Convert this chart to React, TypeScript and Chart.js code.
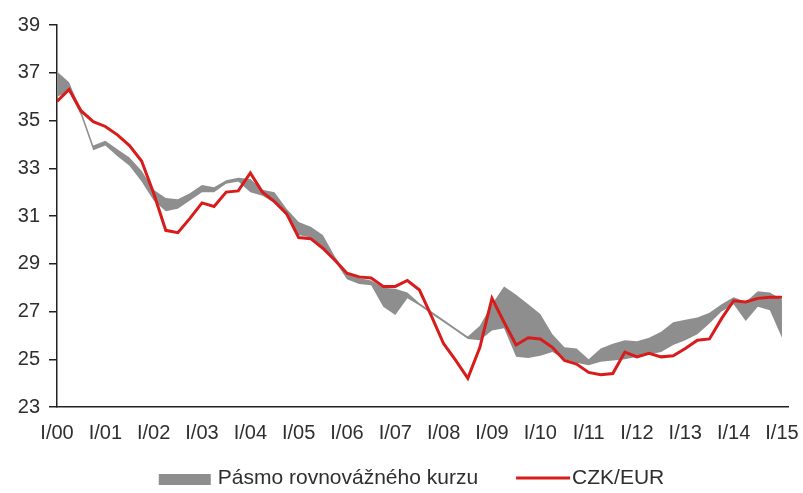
import React, { useEffect, useRef } from "react";
import { Chart, registerables } from "chart.js";

Chart.register(...registerables);

// Year tick labels (one per first quarter)
const yearLabels = [
  "I/00", "I/01", "I/02", "I/03", "I/04", "I/05", "I/06", "I/07",
  "I/08", "I/09", "I/10", "I/11", "I/12", "I/13", "I/14", "I/15",
];

// CZK/EUR, quarterly from I/00 to I/15
const czkEur = [
  35.8, 36.3, 35.4, 34.95, 34.75, 34.4, 33.95, 33.3,
  31.95, 30.4, 30.3, 30.9, 31.55, 31.4, 32.0, 32.05,
  32.8, 32.0, 31.6, 31.1, 30.1, 30.05, 29.65, 29.15,
  28.6, 28.45, 28.4, 28.05, 28.05, 28.3, 27.9, 26.8,
  25.65, 24.95, 24.2, 25.5, 27.55, 26.55, 25.6, 25.9,
  25.85, 25.5, 24.95, 24.8, 24.45, 24.35, 24.4, 25.3,
  25.1, 25.25, 25.1, 25.15, 25.45, 25.8, 25.85, 26.7,
  27.45, 27.4, 27.55, 27.6, 27.6,
];

// Equilibrium exchange-rate band: upper and lower bound
const bandUpper = [
  37.05, 36.6, 35.4, 33.95, 34.15, 33.8, 33.45, 32.9,
  32.1, 31.75, 31.7, 31.95, 32.3, 32.2, 32.5, 32.6,
  32.55, 32.1, 32.0, 31.3, 30.75, 30.55, 30.2, 29.3,
  28.6, 28.4, 28.3, 28.0, 27.95, 27.8, 27.35, 27.0,
  26.65, 26.3, 25.95, 26.4, 27.3, 28.05, 27.7, 27.3,
  26.9, 26.05, 25.5, 25.45, 25.0, 25.45, 25.65, 25.8,
  25.75, 25.9, 26.15, 26.55, 26.65, 26.75, 26.95, 27.3,
  27.6, 27.4, 27.85, 27.8, 27.5,
];
const bandLower = [
  36.0, 36.2, 35.2, 33.75, 33.95, 33.5, 33.1, 32.45,
  31.65, 31.2, 31.3, 31.65, 32.0, 32.0, 32.35, 32.45,
  32.0, 31.85, 31.55, 31.0, 30.2, 30.1, 29.7, 29.1,
  28.35, 28.15, 28.1, 27.2, 26.85, 27.55, 27.25, 26.9,
  26.55, 26.2, 25.85, 25.8, 26.2, 26.3, 25.1, 25.05,
  25.15, 25.3, 25.0, 24.85, 24.75, 24.9, 24.95, 25.0,
  25.1, 25.2, 25.3, 25.6, 25.8, 26.05, 26.5, 27.0,
  27.3, 26.6, 27.2, 27.05, 25.9,
];

const seriesNames = ["Pásmo rovnovážného kurzu", "CZK/EUR"];

const RED = "#d81c1c";
const GREY = "#8e8e8e";
const TEXT = "#2e2e2e";
const FONT = "'Liberation Sans', Arial, sans-serif";

// Legend drawn below the axis labels (box for the band, line for the rate)
const legendPlugin = {
  id: "bottomLegend",
  afterDraw(chart: any) {
    const ctx = chart.ctx as CanvasRenderingContext2D;
    ctx.save();
    ctx.font = `21px ${FONT}`;
    const boxW = 52;
    const gapBox = 7;
    const itemGap = 38;
    const lineW = 54;
    const gapLine = 2;
    const w1 = ctx.measureText(seriesNames[0]).width;
    const w2 = ctx.measureText(seriesNames[1]).width;
    const total = boxW + gapBox + w1 + itemGap + lineW + gapLine + w2;
    const center = chart.width / 2 + 10;
    const y = chart.height - 15;
    let x = center - total / 2;
    ctx.fillStyle = GREY;
    ctx.fillRect(x, y - 4, boxW, 11);
    x += boxW + gapBox;
    ctx.fillStyle = TEXT;
    ctx.textBaseline = "middle";
    ctx.textAlign = "left";
    ctx.fillText(seriesNames[0], x, y);
    x += w1 + itemGap;
    ctx.strokeStyle = RED;
    ctx.lineWidth = 3;
    ctx.beginPath();
    ctx.moveTo(x, y);
    ctx.lineTo(x + lineW, y);
    ctx.stroke();
    x += lineW + gapLine;
    ctx.fillText(seriesNames[1], x, y);
    ctx.restore();
  },
};

export default function App() {
  const ref = useRef<HTMLCanvasElement | null>(null);

  useEffect(() => {
    if (!ref.current) return;
    const toXY = (arr: number[]) => arr.map((y, i) => ({ x: i, y }));
    const chart = new Chart(ref.current, {
      type: "line",
      data: {
        datasets: [
          {
            label: seriesNames[1],
            data: toXY(czkEur),
            borderColor: RED,
            backgroundColor: RED,
            borderWidth: 3,
            pointRadius: 0,
            tension: 0,
            fill: false,
          },
          {
            label: seriesNames[0],
            data: toXY(bandUpper),
            borderColor: GREY,
            backgroundColor: GREY,
            borderWidth: 0,
            pointRadius: 0,
            tension: 0,
            fill: "+1",
          },
          {
            label: "lower",
            data: toXY(bandLower),
            borderColor: GREY,
            backgroundColor: GREY,
            borderWidth: 0,
            pointRadius: 0,
            tension: 0,
            fill: false,
          },
        ],
      },
      options: {
        animation: false,
        responsive: true,
        maintainAspectRatio: false,
        layout: { padding: { top: 25, right: 15, left: 0, bottom: 0 } },
        plugins: {
          tooltip: { enabled: false },
          legend: { display: false },
        },
        scales: {
          x: {
            type: "linear",
            min: 0,
            max: 60.5,
            afterFit: (s: any) => {
              s.height = 86;
              s.paddingLeft = 0;
              s.paddingRight = 0;
            },
            grid: { display: false, drawTicks: false },
            border: { display: true, color: "#222", width: 1.5 },
            ticks: {
              stepSize: 4,
              includeBounds: false,
              autoSkip: false,
              maxRotation: 0,
              padding: 14,
              color: TEXT,
              font: { family: FONT, size: 20 },
              callback: (v: any) =>
                Number(v) % 4 === 0 ? yearLabels[Number(v) / 4] : "",
            },
          },
          y: {
            min: 23,
            max: 39,
            afterFit: (s: any) => {
              s.width = 57;
            },
            grid: {
              drawOnChartArea: false,
              drawTicks: true,
              tickLength: 8,
              color: "#222",
              lineWidth: 1.5,
            },
            border: { display: true, color: "#222", width: 1.5 },
            ticks: {
              stepSize: 2,
              padding: 9,
              color: TEXT,
              font: { family: FONT, size: 20 },
            },
          },
        },
      },
      plugins: [legendPlugin],
    });
    return () => chart.destroy();
  }, []);

  return (
    <div
      style={{
        position: "fixed",
        left: 0,
        top: 0,
        width: 803,
        height: 493,
        background: "#fff",
      }}
    >
      <canvas ref={ref} />
    </div>
  );
}
